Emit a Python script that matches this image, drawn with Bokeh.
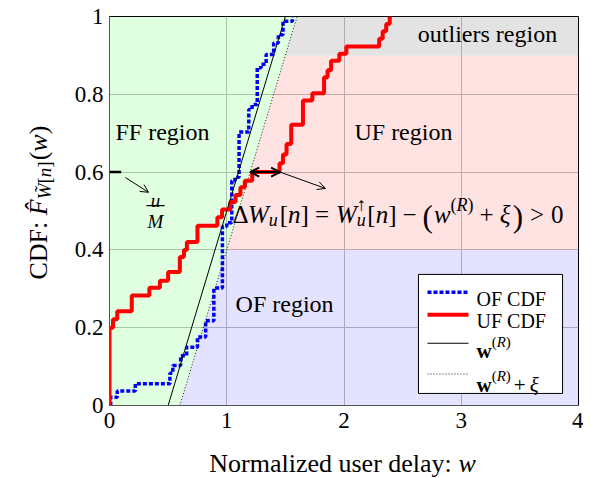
import math
import unicodedata
from bokeh.plotting import figure
from bokeh.layouts import row, column
from bokeh.models import (Label, Arrow, OpenHead, FixedTicker, Range1d, BoxAnnotation)
from bokeh.embed import file_html
from bokeh.resources import INLINE

# ---------------- data ----------------
x_ticks = [0, 1, 2, 3, 4]
x_tick_labels = ["0", "1", "2", "3", "4"]
y_ticks = [0, 0.2, 0.4, 0.6, 0.8, 1]
y_tick_labels = ["0", "0.2", "0.4", "0.6", "0.8", "1"]

# OF CDF (blue, dashed step)
of_w = [0.01, 0.01, 0.066, 0.22, 0.515, 0.54, 0.607, 0.658, 0.75, 0.82, 0.89, 0.963,
        1.0, 1.043, 1.07, 1.105, 1.188, 1.216, 1.26, 1.293, 1.336, 1.40, 1.44, 1.48, 1.56]
of_p = [0, 0.021, 0.037, 0.056, 0.083, 0.103, 0.128, 0.15, 0.176, 0.218, 0.302, 0.46,
        0.47, 0.578, 0.587, 0.703, 0.761, 0.774, 0.868, 0.877, 0.902, 0.932, 0.953, 0.988, 1.0]

# UF CDF (red, solid step)
uf_w = [0, 0, 0.03, 0.066, 0.19, 0.34, 0.43, 0.50, 0.60, 0.635, 0.66, 0.75, 0.92, 0.96,
        1.03, 1.075, 1.117, 1.154, 1.217, 1.45, 1.48, 1.51, 1.55, 1.65, 1.73, 1.83, 1.86,
        1.89, 1.96, 2.02, 2.30, 2.33, 2.36, 2.39]
uf_p = [0, 0.20, 0.222, 0.242, 0.283, 0.303, 0.321, 0.343, 0.382, 0.40, 0.42, 0.462, 0.484,
        0.504, 0.523, 0.541, 0.561, 0.578, 0.60, 0.623, 0.645, 0.672, 0.722, 0.784, 0.803,
        0.844, 0.862, 0.886, 0.904, 0.923, 0.943, 0.962, 0.981, 1.0]

# reference lines w^(R) and w^(R)+xi
line_p = [0, 1]
w_R = [0.5, 1.5]
xi = 0.1
w_R_xi = [v + xi for v in w_R]

# region limits (CDF levels) and axis extent
of_limit = 0.4
outlier_limit = 0.9
w_max = 4

# the Delta W example level
delta_level = 0.6
delta_uf_w = 1.455

legend_names = ["OF CDF", "UF CDF"]

# ---------------- helpers ----------------
FONT = "Liberation Serif"
W_REG = {' ': 250, '(': 333, ')': 333, '[': 333, ']': 333, '+': 564, '=': 564, '>': 564,
         '\u2212': 564, '0': 500, '1': 500, '.': 250, ':': 278, 'C': 667, 'D': 722,
         'F': 556, 'N': 722, 'O': 722, 'R': 667, 'W': 944, 'M': 889, 'a': 444, 'd': 500,
         'e': 444, 'g': 500, 'i': 278, 'l': 278, 'm': 778, 'n': 500, 'o': 500, 'r': 333,
         's': 389, 'u': 500, 'w': 722, 'y': 500, 'z': 444, '\u0394': 612, '\u03be': 440,
         '\u2191': 500}
W_IT = {'W': 833, 'M': 833, 'n': 500, 'u': 500, 'w': 667, 'F': 611, 'R': 611, '\u03be': 440}


def tw(s, size, style):
    tot = 0
    for ch in s:
        if unicodedata.combining(ch):
            continue
        if style == "italic" and ch in W_IT:
            tot += W_IT[ch]
        else:
            tot += W_REG.get(ch, 500)
    return tot * size / 1000.0


def place_runs(fig, x, y, runs, angle=0.0, align="left"):
    advs = []
    for r in runs:
        a = r.get("adv")
        advs.append(tw(r["t"], r["s"], r.get("st", "normal")) + r.get("pad", 0)
                    if a is None else a)
    off = 0.0 if align == "left" else -sum(advs) / 2.0
    for r, a in zip(runs, advs):
        dy = r.get("dy", 0)
        if angle == 0:
            xo, yo = off, dy
        else:
            xo, yo = -dy, off
        fig.add_layout(Label(x=x, y=y, x_offset=xo, y_offset=yo, text=r["t"],
                             text_font=FONT, text_font_size=f'{r["s"]}px',
                             text_font_style=r.get("st", "normal"), text_color="black",
                             text_align="left", text_baseline="alphabetic", angle=angle))
        off += a


# ---------------- main figure ----------------
p = figure(width=525, height=439, output_backend="svg", toolbar_location=None,
           x_range=Range1d(0, w_max), y_range=Range1d(0, 1),
           min_border_left=51, min_border_right=5, min_border_top=16, min_border_bottom=34)
p.background_fill_color = "white"
p.border_fill_color = "white"
p.outline_line_color = "black"
p.outline_line_width = 1

p.xaxis.ticker = FixedTicker(ticks=x_ticks)
p.yaxis.ticker = FixedTicker(ticks=y_ticks)
p.xaxis.major_label_overrides = {t: l for t, l in zip(x_ticks, x_tick_labels)}
p.yaxis.major_label_overrides = {t: l for t, l in zip(y_ticks, y_tick_labels)}
for ax in (p.xaxis, p.yaxis):
    ax.major_tick_line_color = None
    ax.minor_tick_line_color = None
    ax.major_tick_out = 0
    ax.major_tick_in = 0
    ax.minor_tick_out = 0
    ax.minor_tick_in = 0
    ax.axis_line_color = "#555555"
    ax.major_label_text_font = FONT
    ax.major_label_text_font_size = "23px"
    ax.major_label_text_color = "black"
p.xaxis.major_label_standoff = 7
p.yaxis.major_label_standoff = 6
p.xgrid.grid_line_color = "#bdbdbd"
p.ygrid.grid_line_color = "#bdbdbd"


def x_on(line, level):
    return line[0] + (line[1] - line[0]) * level


# regions (built from the reference line and the CDF limits)
ff_x = [0, w_R_xi[0], w_R_xi[1], 0]
ff_y = [0, 0, 1, 1]
of_x = [w_R_xi[0], w_max, w_max, x_on(w_R_xi, of_limit)]
of_y = [0, 0, of_limit, of_limit]
ufr_x = [x_on(w_R_xi, of_limit), w_max, w_max, x_on(w_R_xi, outlier_limit)]
ufr_y = [of_limit, of_limit, outlier_limit, outlier_limit]
out_x = [x_on(w_R_xi, outlier_limit), w_max, w_max, w_R_xi[1]]
out_y = [outlier_limit, outlier_limit, 1, 1]
p.patch(ff_x, ff_y, fill_color="#00ff00", fill_alpha=0.12, line_color=None)
p.patch(of_x, of_y, fill_color="#0000ff", fill_alpha=0.11, line_color=None)
p.patch(ufr_x, ufr_y, fill_color="#ff0000", fill_alpha=0.11, line_color=None)
p.patch(out_x, out_y, fill_color="#808080", fill_alpha=0.22, line_color=None)

# curves
OF_STYLE = dict(line_color="blue", line_width=3.5, line_dash="4 2")
UF_STYLE = dict(line_color="red", line_width=4)
WR_STYLE = dict(line_color="black", line_width=1)
WRXI_STYLE = dict(line_color="black", line_width=0.9, line_dash="1 2")
p.step(of_w, of_p, mode="after", **OF_STYLE)
p.step(uf_w, uf_p, mode="after", **UF_STYLE)
p.line(w_R, line_p, **WR_STYLE)
p.line(w_R_xi, line_p, **WRXI_STYLE)

# ---------------- legend (box, samples, labels) ----------------
LEG = dict(left=2.635, right=3.864, bottom=0.031, top=0.337,
           sx0=2.712, sx1=3.062, tx=3.13,
           sample_y=[0.291, 0.233, 0.160, 0.081],
           text_y=[0.275, 0.218, 0.140, 0.052])
p.add_layout(BoxAnnotation(left=LEG["left"], right=LEG["right"], bottom=LEG["bottom"],
                           top=LEG["top"], fill_color="white", fill_alpha=1,
                           line_color="black", line_width=1, line_alpha=1))
for sy, st in zip(LEG["sample_y"], [OF_STYLE, UF_STYLE, WR_STYLE, WRXI_STYLE]):
    p.add_layout(Arrow(start=None, end=None, x_start=LEG["sx0"], y_start=sy,
                       x_end=LEG["sx1"], y_end=sy, **st))
for name, ty in zip(legend_names, LEG["text_y"][:2]):
    p.add_layout(Label(x=LEG["tx"], y=ty, text=name, text_font=FONT, text_font_size="20px",
                       text_baseline="alphabetic", text_align="left", text_color="black"))
place_runs(p, LEG["tx"], LEG["text_y"][2],
           [dict(t="w", s=21, st="bold"),
            dict(t="(", s=15, dy=9), dict(t="R", s=15, st="italic", dy=9),
            dict(t=")", s=15, dy=9)])
place_runs(p, LEG["tx"], LEG["text_y"][3],
           [dict(t="w", s=21, st="bold"),
            dict(t="(", s=15, dy=9), dict(t="R", s=15, st="italic", dy=9),
            dict(t=")", s=15, dy=9, pad=3), dict(t="+", s=21, pad=4),
            dict(t="\u03be", s=21, st="italic")])

# region names
for txt, x, y in [("FF region", 0.452, 0.704), ("UF region", 2.507, 0.704),
                  ("outliers region", 3.224, 0.956), ("OF region", 1.493, 0.262)]:
    p.add_layout(Label(x=x, y=y, text=txt, text_font=FONT, text_font_size="24px",
                       text_align="center", text_baseline="middle", text_color="black"))

# u/M fraction and arrow
place_runs(p, 0.392, 0.528, [dict(t="u", s=19, st="italic")], align="center")
place_runs(p, 0.392, 0.474, [dict(t="M", s=19, st="italic")], align="center")
p.add_layout(BoxAnnotation(left=0.315, right=0.47, bottom=0.5125, top=0.5155,
                           fill_color="black", fill_alpha=1, line_color=None))
p.add_layout(Arrow(end=OpenHead(size=8, line_width=1), x_start=0.136, y_start=0.586,
                   x_end=0.333, y_end=0.548, line_width=1))
p.add_layout(Arrow(end=None, x_start=0, y_start=delta_level, x_end=0.1, y_end=delta_level,
                   line_width=2.5))

# Delta W double arrow and pointer
p.add_layout(Arrow(start=OpenHead(size=9, line_width=2), end=OpenHead(size=9, line_width=2),
                   x_start=x_on(w_R_xi, delta_level), y_start=delta_level,
                   x_end=delta_uf_w, y_end=delta_level, line_width=2))
p.add_layout(Arrow(end=OpenHead(size=8, line_width=1), x_start=delta_uf_w, y_start=delta_level,
                   x_end=1.842, y_end=0.558, line_width=1))

# equation
eq = [dict(t="\u0394", s=25), dict(t="W", s=25, st="italic"),
      dict(t="u", s=18, st="italic", dy=-5, pad=2),
      dict(t="[", s=25), dict(t="n", s=25, st="italic"), dict(t="]", s=25, pad=6),
      dict(t="=", s=25, pad=7),
      dict(t="W", s=25, st="italic"),
      dict(t="u", s=18, st="italic", dy=-5, adv=0), dict(t="\u2191", s=19, dy=10, pad=1),
      dict(t="[", s=25), dict(t="n", s=25, st="italic"), dict(t="]", s=25, pad=6),
      dict(t="\u2212", s=25, pad=6),
      dict(t="(", s=31, dy=-2, pad=1), dict(t="w", s=25, st="italic"),
      dict(t="(", s=18, dy=10), dict(t="R", s=18, st="italic", dy=10),
      dict(t=")", s=18, dy=10, pad=6),
      dict(t="+", s=25, pad=6), dict(t="\u03be", s=25, st="italic", pad=2),
      dict(t=")", s=31, dy=-2, pad=7),
      dict(t=">", s=25, pad=7), dict(t="0", s=25)]
place_runs(p, 1.05, 0.491, eq)

# ---------------- axis-label strips ----------------
ylab = figure(width=58, height=439, output_backend="svg", toolbar_location=None,
              x_range=Range1d(0, 58), y_range=Range1d(0, 439),
              min_border_left=0, min_border_right=0, min_border_top=0, min_border_bottom=0,
              x_axis_type=None, y_axis_type=None, outline_line_color=None)
ylab.grid.visible = False
place_runs(ylab, 38, 229, [dict(t="CDF: ", s=26), dict(t="F\u0302", s=26, st="italic"),
                           dict(t="W\u0303", s=19, st="italic", dy=-6),
                           dict(t="[", s=19, dy=-6), dict(t="n", s=19, st="italic", dy=-6),
                           dict(t="]", s=19, dy=-6, pad=1),
                           dict(t="(", s=26), dict(t="w", s=26, st="italic"),
                           dict(t=")", s=26)],
           angle=math.pi / 2, align="center")

xlab = figure(width=583, height=38, output_backend="svg", toolbar_location=None,
              x_range=Range1d(0, 583), y_range=Range1d(0, 38),
              min_border_left=0, min_border_right=0, min_border_top=0, min_border_bottom=0,
              x_axis_type=None, y_axis_type=None, outline_line_color=None)
xlab.grid.visible = False
place_runs(xlab, 342, 14, [dict(t="Normalized user delay: ", s=26),
                           dict(t="w", s=26, st="italic")], align="center")

layout = column(row(ylab, p), xlab)
open("out.html", "w").write(file_html(layout, INLINE))
